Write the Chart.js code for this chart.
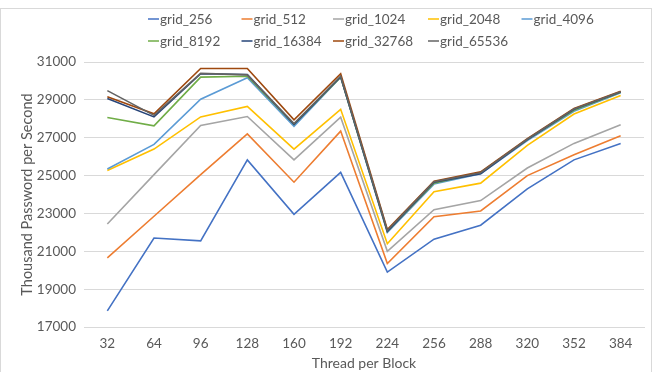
<!DOCTYPE html>
<html>
<head>
<meta charset="utf-8">
<script src="https://cdn.jsdelivr.net/npm/chart.js@4"></script>
<style>
  html, body { margin: 0; padding: 0; background: #ffffff; }
  #wrap { position: relative; width: 656px; height: 372px; }
</style>
</head>
<body>
<div id="wrap"><canvas id="c" width="656" height="372"></canvas></div>
<script>
// Threads per block on the x axis
const threads = ['32', '64', '96', '128', '160', '192', '224', '256', '288', '320', '352', '384'];

// Throughput (thousand passwords per second) for each grid size
const grid_256   = [17850, 21700, 21550, 25830, 22950, 25170, 19900, 21640, 22380, 24300, 25830, 26690];
const grid_512   = [20650, 22850, 25050, 27200, 24650, 27350, 20350, 22830, 23130, 25000, 26100, 27100];
const grid_1024  = [22440, 25050, 27650, 28120, 25830, 28080, 21000, 23200, 23680, 25400, 26700, 27690];
const grid_2048  = [25270, 26400, 28100, 28650, 26400, 28500, 21400, 24150, 24600, 26600, 28250, 29230];
const grid_4096  = [25350, 26650, 29030, 30170, 27600, 30200, 22000, 24550, 25100, 26850, 28400, 29380];
const grid_8192  = [28070, 27630, 30200, 30250, 27700, 30200, 22050, 24600, 25150, 26900, 28450, 29400];
const grid_16384 = [29070, 28100, 30380, 30340, 27700, 30220, 22050, 24650, 25100, 26900, 28500, 29420];
const grid_32768 = [29160, 28260, 30660, 30660, 27950, 30380, 22150, 24700, 25200, 26950, 28550, 29450];
const grid_65536 = [29490, 28180, 30400, 30320, 27750, 30250, 22100, 24680, 25150, 26920, 28520, 29430];

const seriesNames = ['grid_256', 'grid_512', 'grid_1024', 'grid_2048', 'grid_4096',
                     'grid_8192', 'grid_16384', 'grid_32768', 'grid_65536'];
const seriesValues = [grid_256, grid_512, grid_1024, grid_2048, grid_4096,
                      grid_8192, grid_16384, grid_32768, grid_65536];
const seriesColors = ['#4472C4', '#ED7D31', '#A5A5A5', '#FFC000', '#5B9BD5',
                      '#70AD47', '#264478', '#9E480E', '#636363'];

// Y axis range and step
const yMin = 17000;
const yMax = 31000;
const yStep = 2000;

const FONT = 'Lato, "Open Sans", sans-serif';
const TEXT = '#595959';

// Legend laid out in fixed columns, two rows
const legendPlugin = {
  id: 'columnLegend',
  afterDraw(chart) {
    const ctx = chart.ctx;
    const colX = [148, 241.5, 333, 428, 521.5];
    const rowY = [19, 41];
    ctx.save();
    ctx.font = '13.5px ' + FONT;
    ctx.textBaseline = 'middle';
    ctx.textAlign = 'left';
    chart.data.datasets.forEach((ds, i) => {
      const x = colX[i % 5];
      const y = rowY[Math.floor(i / 5)];
      ctx.strokeStyle = ds.borderColor;
      ctx.lineWidth = 1.5;
      ctx.beginPath();
      ctx.moveTo(x, y);
      ctx.lineTo(x + 11, y);
      ctx.stroke();
      ctx.fillStyle = TEXT;
      ctx.fillText(ds.label, x + 12, y + 0.5);
    });
    ctx.restore();
  }
};

// Thin frame around the chart area
const framePlugin = {
  id: 'chartFrame',
  beforeDraw(chart) {
    const ctx = chart.ctx;
    ctx.save();
    ctx.strokeStyle = '#D9D9D9';
    ctx.lineWidth = 1;
    ctx.strokeRect(0.5, 8.5, 651, 370);
    ctx.restore();
  }
};

const datasets = seriesNames.map((name, i) => ({
  label: name,
  data: seriesValues[i],
  borderColor: seriesColors[i],
  backgroundColor: seriesColors[i],
  borderWidth: 1.6,
  pointRadius: 0,
  pointHoverRadius: 0,
  tension: 0,
  fill: false,
  order: seriesNames.length - i
}));

new Chart(document.getElementById('c'), {
  type: 'line',
  data: { labels: threads, datasets },
  plugins: [framePlugin, legendPlugin],
  options: {
    responsive: false,
    animation: false,
    events: [],
    layout: { padding: { top: 62, right: 12, bottom: 0, left: 19 } },
    plugins: {
      legend: { display: false },
      tooltip: { enabled: false }
    },
    scales: {
      x: {
        offset: true,
        grid: { display: false, drawTicks: false },
        border: { display: true, color: '#D9D9D9', width: 1 },
        ticks: { color: TEXT, font: { family: FONT, size: 13.5 }, padding: 9, maxRotation: 0 },
        title: {
          display: true, text: 'Thread per Block', color: TEXT,
          font: { family: FONT, size: 14 }, padding: { top: 1, bottom: 0 }
        },
        afterFit(scale) { scale.height = 45; }
      },
      y: {
        min: yMin, max: yMax,
        grid: { color: '#D9D9D9', lineWidth: 1, drawTicks: false },
        border: { display: false },
        ticks: {
          stepSize: yStep, color: TEXT, font: { family: FONT, size: 13.5 }, padding: 8,
          callback: (v) => String(v)
        },
        title: {
          display: true, text: 'Thousand Password per Second', color: TEXT,
          font: { family: FONT, size: 14.5 }, padding: { top: 0, bottom: 2 }
        },
        afterFit(scale) { scale.width = 65; }
      }
    }
  }
});
</script>
</body>
</html>
